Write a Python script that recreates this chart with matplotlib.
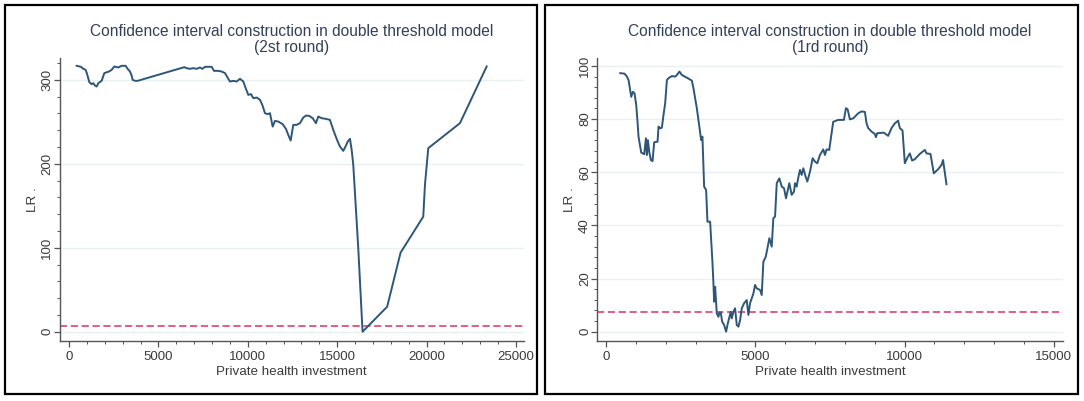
import matplotlib
matplotlib.use("Agg")
import matplotlib.pyplot as plt
from matplotlib.patches import Rectangle
from matplotlib.ticker import MultipleLocator

plt.rcParams["font.family"] = ["Liberation Sans", "DejaVu Sans"]

# second round: LR statistic against threshold candidate
x2 = [429, 671, 802, 932, 1025, 1137, 1268, 1361, 1454, 1547, 1641, 1827, 1976, 2237,
      2386, 2535, 2759, 2945, 3169, 3281, 3412, 3505, 3561, 3691, 3840, 6451, 6580,
      6767, 6954, 7140, 7327, 7458, 7606, 7980, 8110, 8352, 8539, 8725, 8912, 9004,
      9191, 9377, 9564, 9750, 9883, 10029, 10179, 10308, 10498, 10683, 10812, 10962,
      11113, 11242, 11392, 11521, 11706, 11952, 12136, 12265, 12399, 12545, 12735,
      12919, 13104, 13255, 13440, 13630, 13814, 13943, 14133, 14374, 14597, 14782,
      14972, 15157, 15341, 15492, 15587, 15716, 15811, 15901, 16180, 16420, 17796,
      18546, 19815, 19910, 20095, 21868, 23361]
lr2 = [316.7, 315.5, 313.1, 311.9, 306.0, 297.2, 294.9, 296.0, 293.2, 292.0, 296.0,
       298.8, 308.0, 309.9, 311.9, 315.9, 314.7, 316.7, 316.7, 313.1, 309.9, 305.1,
       300.0, 298.8, 298.8, 315.1, 313.9, 313.1, 313.9, 313.1, 314.7, 313.1, 315.5,
       315.5, 310.7, 310.7, 309.9, 308.0, 301.2, 298.0, 298.8, 298.0, 301.2, 298.0,
       290.1, 282.1, 283.0, 278.2, 278.9, 276.2, 270.2, 260.3, 259.1, 260.3, 244.3,
       251.1, 250.3, 247.2, 241.6, 234.4, 227.7, 246.4, 246.4, 248.4, 255.1, 257.4,
       257.1, 254.3, 248.4, 256.3, 254.3, 253.5, 252.3, 240.4, 229.7, 220.5, 215.4,
       221.7, 226.5, 229.7, 216.6, 198.7, 99.4, 0.0, 29.8, 94.2, 137.1, 174.9, 218.6,
       248.4, 315.9]

# first round
x1 = [469, 613, 693, 747, 837, 894, 948, 1004, 1048, 1081, 1138, 1172, 1272, 1329,
      1362, 1395, 1440, 1496, 1551, 1607, 1719, 1752, 1808, 1864, 1919, 1975, 2032,
      2087, 2200, 2310, 2367, 2454, 2534, 2702, 2869, 2923, 2980, 3036, 3091, 3147,
      3180, 3224, 3281, 3348, 3392, 3482, 3559, 3593, 3616, 3650, 3705, 3761, 3794,
      3839, 3884, 3951, 4018, 4074, 4129, 4174, 4207, 4263, 4319, 4375, 4431, 4487,
      4543, 4620, 4709, 4765, 4821, 4933, 4989, 5045, 5156, 5212, 5267, 5347, 5414,
      5469, 5547, 5602, 5659, 5716, 5803, 5883, 5960, 6026, 6137, 6216, 6294, 6328,
      6384, 6440, 6495, 6551, 6607, 6686, 6741, 6830, 6920, 6998, 7076, 7164, 7276,
      7332, 7388, 7475, 7609, 7777, 7968, 8035, 8092, 8169, 8281, 8449, 8560, 8671,
      8727, 8783, 8895, 9006, 9040, 9084, 9307, 9451, 9563, 9674, 9786, 9843, 9933,
      10010, 10088, 10177, 10254, 10345, 10512, 10680, 10737, 10870, 10981, 11124,
      11238, 11292, 11406]
lr1 = [97.3, 97.1, 96.0, 94.7, 88.4, 90.3, 89.7, 85.3, 79.0, 73.4, 69.6, 67.4, 66.8,
       72.8, 66.5, 72.1, 67.7, 64.6, 64.2, 71.3, 71.5, 77.2, 76.5, 76.8, 81.6, 86.0,
       94.7, 95.4, 96.2, 96.0, 96.6, 97.9, 96.6, 95.6, 94.5, 91.6, 87.8, 84.1, 79.7,
       75.0, 72.1, 73.4, 54.6, 53.3, 41.4, 41.4, 26.3, 18.2, 11.3, 16.9, 6.9, 5.6, 7.2,
       7.2, 3.8, 2.5, 0.0, 3.1, 5.6, 7.5, 5.0, 7.5, 8.8, 2.5, 1.9, 4.4, 8.8, 10.7, 11.9,
       6.3, 10.7, 14.4, 17.6, 16.3, 15.7, 13.8, 26.3, 28.2, 32.0, 35.2, 32.0, 42.7,
       43.3, 55.9, 57.7, 54.6, 54.0, 50.2, 55.9, 51.5, 52.7, 55.9, 54.6, 58.1, 60.9,
       59.0, 61.5, 58.3, 56.5, 60.2, 65.3, 64.0, 63.4, 66.5, 68.6, 66.5, 68.6, 68.4,
       79.0, 79.7, 79.7, 84.1, 83.7, 79.9, 80.3, 82.2, 82.9, 82.7, 78.4, 76.6, 75.3,
       74.4, 73.2, 74.7, 74.9, 73.7, 76.6, 78.4, 79.4, 76.6, 75.7, 63.4, 65.3, 67.1,
       64.4, 64.9, 66.9, 68.4, 67.1, 66.9, 59.6, 61.1, 62.7, 64.6, 55.5]

crit = 7.35
title_line1 = "Confidence interval construction in double threshold model"
titles = ["(2st round)", "(1rd round)"]

LINE = "#2e5678"
RED = "#e0507a"
GRID = "#e9f1f3"
TXT = "#3a3a3a"

fig = plt.figure(figsize=(10.84, 4.01), dpi=100)
W, H = 1084, 401


def box(l, t, r, b):
    return [l / W, 1 - b / H, (r - l) / W, (b - t) / H]


panels = [
    dict(x=x2, y=lr2, ax=box(59.6, 58, 524, 341), xlim=(-525, 25450), ylim=(-11, 326),
         xmaj=5000, xmin=1000, ymaj=100, ymin=20, frame=(5, 5, 537, 394)),
    dict(x=x1, y=lr1, ax=box(597.3, 58, 1062.6, 341), xlim=(-301, 15300), ylim=(-3.5, 103),
         xmaj=5000, xmin=1000, ymaj=20, ymin=4, frame=(545, 5, 1078, 394)),
]

for p, sub in zip(panels, titles):
    ax = fig.add_axes(p["ax"])
    ax.plot(p["x"], p["y"], color=LINE, lw=1.4, zorder=3)
    ax.axhline(crit, color=RED, lw=1.3, dashes=(4, 2), zorder=2)
    ax.set_xlim(*p["xlim"])
    ax.set_ylim(*p["ylim"])
    ax.xaxis.set_major_locator(MultipleLocator(p["xmaj"]))
    ax.xaxis.set_minor_locator(MultipleLocator(p["xmin"]))
    ax.yaxis.set_major_locator(MultipleLocator(p["ymaj"]))
    ax.yaxis.set_minor_locator(MultipleLocator(p["ymin"]))
    ax.grid(axis="y", which="major", color=GRID, lw=1.0, zorder=0)
    for s in ("top", "right"):
        ax.spines[s].set_visible(False)
    for s in ("left", "bottom"):
        ax.spines[s].set_color("#555555")
        ax.spines[s].set_linewidth(1.0)
    ax.tick_params(which="major", length=4, width=0.9, color="#555555",
                   labelsize=9.5, labelcolor=TXT, pad=3.5)
    ax.tick_params(axis="y", which="major", pad=0.5)
    ax.tick_params(which="minor", length=2.5, width=0.7, color="#555555")
    for lab in ax.get_yticklabels():
        lab.set_rotation(90)
        lab.set_va("center")
    ax.set_xlabel("Private health investment", fontsize=9.6, color=TXT, labelpad=2)
    ax.set_ylabel("LR .", fontsize=9.6, color=TXT, labelpad=2)
    ax.text(0.5, 1 + 26.5 / 283, title_line1, transform=ax.transAxes, ha="center",
            va="center", fontsize=11.2, color="#33405a")
    ax.text(0.5, 1 + 10.5 / 283, sub, transform=ax.transAxes, ha="center",
            va="center", fontsize=11.2, color="#33405a")

    l, t, r, b = p["frame"]
    fig.add_artist(Rectangle((l / W, 1 - b / H), (r - l) / W, (b - t) / H,
                             transform=fig.transFigure, fill=False, ec="black", lw=1.6))

fig.savefig("out.png", dpi=100)
